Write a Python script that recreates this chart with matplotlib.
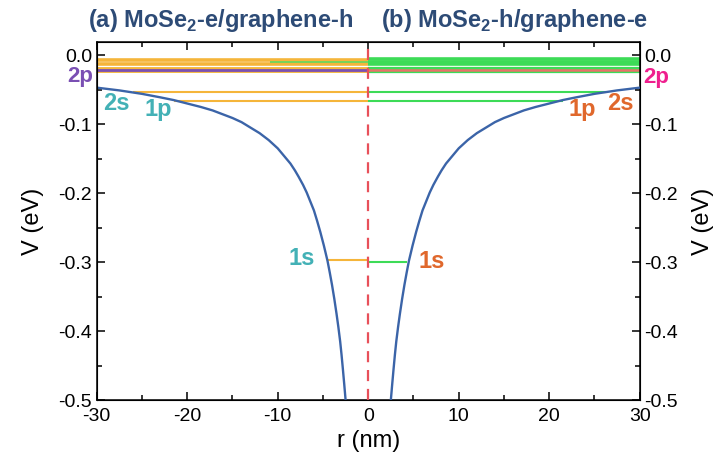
import matplotlib
matplotlib.use("Agg")
import matplotlib.pyplot as plt
from matplotlib.ticker import MultipleLocator

plt.rcParams['font.family'] = ['Liberation Sans', 'DejaVu Sans']
plt.rcParams['axes.unicode_minus'] = False
plt.rcParams['mathtext.fontset'] = 'custom'
plt.rcParams['mathtext.rm'] = 'Liberation Sans'
plt.rcParams['mathtext.bf'] = 'Liberation Sans:bold'

# potential well V(r), one half (nm, eV)
r_pot = [2.5, 2.65, 2.8, 2.95, 3.1, 3.3, 3.5, 3.75, 4.0, 4.25, 4.5, 4.9, 5.3, 5.65, 6.0,
         6.4, 6.8, 7.2, 7.7, 8.1, 8.6, 9.3, 10, 11, 12, 13, 14, 15, 16, 17.2, 18.5, 20,
         21.5, 23, 25, 27.5, 30]
v_pot = [-0.500, -0.477, -0.455, -0.434, -0.415, -0.394, -0.375, -0.353, -0.333, -0.315,
         -0.298, -0.276, -0.256, -0.240, -0.225, -0.212, -0.199, -0.188, -0.176, -0.167,
         -0.157, -0.146, -0.135, -0.123, -0.113, -0.105, -0.097, -0.091, -0.086, -0.080,
         -0.075, -0.070, -0.065, -0.061, -0.056, -0.051, -0.047]

# (a) MoSe2-e/graphene-h levels (left half)
e_top_a = [-0.007, -0.012]
e_2p_a = -0.022
e_2s_a, r_2s_a = -0.054, -26.0
e_1p_a, r_1p_a = -0.067, -21.5
e_1s_a, r_1s_a = -0.297, -4.55

# (b) MoSe2-h/graphene-e levels (right half)
e_top_b = [-0.006, -0.0095, -0.013]
r_top_b_ext = -10.8
e_2p_b = -0.021
e_2s_b, r_2s_b = -0.054, 26.3
e_1p_b, r_1p_b = -0.067, 21.5
e_1s_b, r_1s_b = -0.300, 4.3

blue = '#3b64a8'
orange = '#f5b53a'
green = '#3ddb57'
purple = '#7a4fb3'
salmon = '#e8736a'
teal = '#43b1b6'
rust = '#e0682c'
pink = '#ef1f8e'
navy = '#2d4b76'

fig = plt.figure(figsize=(7.22, 4.68), dpi=100)
ax = fig.add_axes([0.134, 0.145, 0.752, 0.765])

# potential
ax.plot([-r for r in r_pot], v_pot, color=blue, lw=1.7, zorder=3)
ax.plot(r_pot, v_pot, color=blue, lw=1.7, zorder=3)

# left levels
for e in e_top_a:
    ax.hlines(e, -30, 0, color=orange, lw=2.6, zorder=2)
ax.hlines(e_2p_a, -30, 0, color=orange, lw=4.2, zorder=2)
ax.hlines(e_2p_a, -30, 0, color=purple, lw=2.0, zorder=2.5)
ax.hlines(e_2s_a, r_2s_a, 0, color=orange, lw=1.5, zorder=2)
ax.hlines(e_1p_a, r_1p_a, 0, color=orange, lw=1.5, zorder=2)
ax.hlines(e_1s_a, r_1s_a, 0, color=orange, lw=1.5, zorder=2)

# right levels
for e in e_top_b:
    ax.hlines(e, 0, 30, color=green, lw=2.6, zorder=2)
ax.hlines(e_top_b[1], r_top_b_ext, 0, color=green, lw=1.2, zorder=2.2, alpha=0.8)
ax.hlines(e_2p_b, 0, 30, color=green, lw=4.5, zorder=2)
ax.hlines(e_2p_b, 0, 30, color=salmon, lw=1.8, zorder=2.5)
ax.hlines(e_2s_b, 0, r_2s_b, color=green, lw=1.5, zorder=2)
ax.hlines(e_1p_b, 0, r_1p_b, color=green, lw=1.5, zorder=2)
ax.hlines(e_1s_b, 0, r_1s_b, color=green, lw=1.5, zorder=2)

ax.axvline(0, color='#e8505a', lw=1.6, ls=(0, (5, 3.5)), zorder=4)

ax.set_xlim(-30, 30)
ax.set_ylim(-0.5, 0.019)
ax.xaxis.set_major_locator(MultipleLocator(10))
ax.xaxis.set_minor_locator(MultipleLocator(5))
ax.yaxis.set_major_locator(MultipleLocator(0.1))
ax.yaxis.set_minor_locator(MultipleLocator(0.05))
ax.yaxis.set_major_formatter(plt.FormatStrFormatter('%.1f'))
ax.tick_params(which='both', direction='in', top=True, labelsize=14, width=1.1)
ax.tick_params(axis='x', pad=6)
ax.tick_params(which='major', length=6)
ax.tick_params(which='minor', length=3.5)
ax.set_xlabel('r (nm)', fontsize=17, labelpad=3)
ax.set_ylabel('V (eV)', fontsize=17, labelpad=10)
for s in ax.spines.values():
    s.set_linewidth(1.1)

ax2 = ax.twinx()
ax2.set_ylim(ax.get_ylim())
ax2.yaxis.set_major_locator(MultipleLocator(0.1))
ax2.yaxis.set_minor_locator(MultipleLocator(0.05))
ax2.yaxis.set_major_formatter(plt.FormatStrFormatter('%.1f'))
ax2.tick_params(which='both', direction='in', labelsize=14, width=1.1)
ax2.tick_params(which='major', length=6)
ax2.tick_params(which='minor', length=3.5)
ax2.set_ylabel('V (eV)', fontsize=17, labelpad=10)

# state labels
lbl = dict(fontsize=17, fontweight='bold', va='center')
ax.text(-30.4, -0.031, '2p', color=purple, ha='right', clip_on=False,
        **dict(lbl, fontsize=16))
ax.text(-27.8, -0.070, '2s', color=teal, ha='center', **lbl)
ax.text(-23.2, -0.079, '1p', color=teal, ha='center', **lbl)
ax.text(-7.4, -0.294, '1s', color=teal, ha='center', **lbl)
ax.text(30.4, -0.032, '2p', color=pink, ha='left', clip_on=False,
        **dict(lbl, fontsize=16))
ax.text(23.7, -0.078, '1p', color=rust, ha='center', **lbl)
ax.text(27.9, -0.070, '2s', color=rust, ha='center', **lbl)
ax.text(7.05, -0.299, '1s', color=rust, ha='center', **lbl)

fig.text(0.306, 0.957, r'(a) MoSe$_\mathbf{2}$-e/graphene-h', color=navy, fontsize=17,
         fontweight='bold', ha='center', va='center')
fig.text(0.713, 0.957, r'(b) MoSe$_\mathbf{2}$-h/graphene-e', color=navy, fontsize=17,
         fontweight='bold', ha='center', va='center')

fig.savefig('out.png', dpi=100)
